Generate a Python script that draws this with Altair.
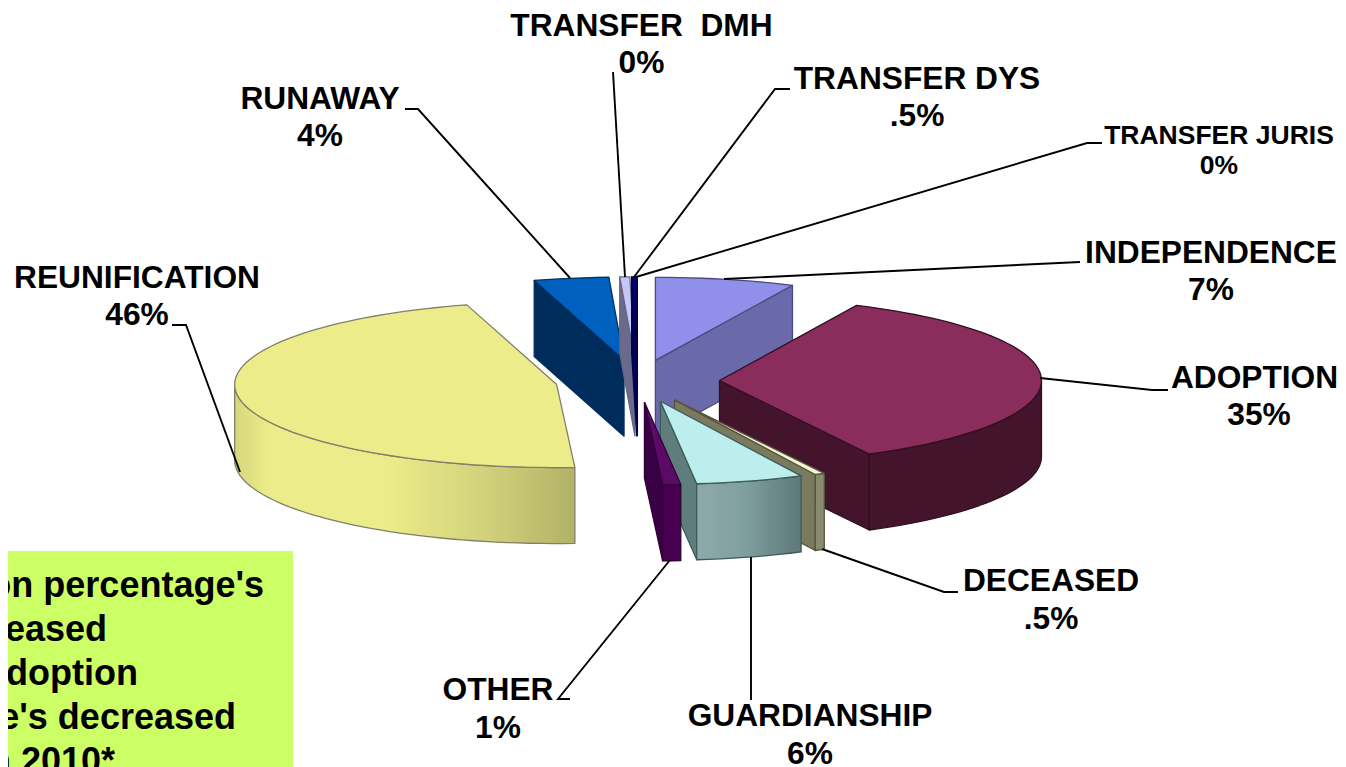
import math
import altair as alt
import pandas as pd

# ---- data (share of the pie, clockwise from 12 o'clock)
categories = ["INDEPENDENCE", "ADOPTION", "DECEASED", "GUARDIANSHIP", "OTHER",
              "REUNIFICATION", "RUNAWAY", "TRANSFER \u00a0DMH", "TRANSFER DYS", "TRANSFER JURIS"]
shares = [7, 35.3, 0.5, 5.4, 0.9, 46.4, 3.75, 0.5, 0.2, 0.05]
pct_labels = ["7%", "35%", ".5%", "6%", "1%", "46%", "4%", "0%", ".5%", "0%"]
note_lines = ["on percentage's", "reased", "Adoption", "e's decreased", "n 2010*"]

# ---- styles
top_col = ["#9090ea", "#8b2d5c", "#f6f6d2", "#bdeeee", "#5b0a68", "#ecec8a", "#0060c0", "#c6c6f8", "#000080", "#000080"]
cut_col = ["#6a6aaa", "#43142c", "#7a7a5e", "#5f7d7b", "#3a0044", "#b4b46a", "#002c5c", "#6a6a8a", "#00005a", "#00005a"]
edge_col = ["#4a4a80", "#2e1020", "#55553f", "#3f5a5a", "#300038", "#80806a", "#00305f", "#666680", "#000050", "#000050"]


def grad(stops):
    return alt.LinearGradient(gradient="linear", x1=0, x2=1, y1=0, y2=0,
                              stops=[alt.GradientStop(offset=o, color=c) for o, c in stops])


wall_col = ["#6a6aaa", "#43142c", "#8a8a6e",
            grad([(0, "#8fa9a9"), (0.45, "#80a0a0"), (1, "#5e7878")]),
            "#470050",
            grad([(0, "#d6d67c"), (0.1, "#ecec8a"), (0.45, "#ecec8a"), (0.72, "#d3d37c"), (1, "#b2b268")]),
            "#002c5c", "#6a6a8a", "#00005a", "#00005a"]

# ---- pie geometry, in picture pixels
CX, CY, RX, RY, DEPTH, EXPLODE = 637.5, 381, 322, 83, 76, 82 / 322
X0, Y0, W, H = 8, 8, 1330, 759
x_enc = alt.X("x:Q", axis=None, scale=alt.Scale(domain=[X0, X0 + W], range=[0, W]))
y_enc = alt.Y("y:Q", axis=None, scale=alt.Scale(domain=[Y0, Y0 + H], range=[0, H]))


def poly(pts, fill, stroke, sw=1.3):
    df = pd.DataFrame({"x": [p[0] for p in pts], "y": [p[1] for p in pts], "i": range(len(pts))})
    return alt.Chart(df).mark_line(fill=fill, stroke=stroke, strokeWidth=sw, strokeJoin="round").encode(
        x=x_enc, y=y_enc, order="i:Q")


def pt(cx, cy, deg, dz=0):
    t = math.radians(deg)
    return (cx + RX * math.sin(t), cy - RY * math.cos(t) + dz)


total = sum(shares)
bounds, acc = [], 0.0
for s in shares:
    bounds.append((acc * 360 / total, (acc + s) * 360 / total))
    acc += s

faces = {}
for k, (a, b) in enumerate(bounds):
    mid = math.radians((a + b) / 2)
    ax = CX + EXPLODE * RX * math.sin(mid)
    ay = CY - EXPLODE * RY * math.cos(mid)
    n = max(2, int((b - a) / 2))
    arc = [pt(ax, ay, a + (b - a) * j / n) for j in range(n + 1)]
    items = []
    # visible radial cuts
    if math.sin(math.radians(a)) < 0:
        p = pt(ax, ay, a)
        items.append(poly([(ax, ay), p, (p[0], p[1] + DEPTH), (ax, ay + DEPTH), (ax, ay)], cut_col[k], edge_col[k]))
    if math.sin(math.radians(b)) > 0:
        p = pt(ax, ay, b)
        items.append(poly([(ax, ay), p, (p[0], p[1] + DEPTH), (ax, ay + DEPTH), (ax, ay)], cut_col[k], edge_col[k]))
    # visible outer wall
    lo, hi = max(a, 90), min(b, 270)
    if hi > lo:
        m = max(2, int((hi - lo) / 2))
        front = [pt(ax, ay, lo + (hi - lo) * j / m) for j in range(m + 1)]
        back = [(p[0], p[1] + DEPTH) for p in reversed(front)]
        items.append(poly(front + back + [front[0]], wall_col[k], edge_col[k]))
    # top face
    items.append(poly([(ax, ay)] + arc + [(ax, ay)], top_col[k], edge_col[k]))
    faces[k] = items

paint_order = [0, 6, 7, 8, 9, 5, 1, 2, 3, 4]
layers = []

# note box
box = pd.DataFrame({"x": [X0], "x2": [293], "y": [551], "y2": [Y0 + H]})
layers.append(alt.Chart(box).mark_rect(color="#ccff66").encode(
    x=x_enc, x2="x2:Q", y=y_enc, y2="y2:Q"))

for k in paint_order:
    layers.extend(faces[k])

# leader lines (picture pixels)
leaders = [
    [(1080, 262), (724, 279)],
    [(1168, 390), (1152, 390), (1040, 378)],
    [(958, 592), (944, 592), (822, 549)],
    [(751, 700), (751, 557)],
    [(570, 699), (558, 699), (670, 560)],
    [(172, 325), (186, 325), (240, 472)],
    [(405, 109), (418, 109), (570, 278)],
    [(613, 72), (625, 277)],
    [(790, 89), (775, 89), (634, 277)],
    [(1102, 143), (1087, 143), (636, 277)],
]
for seg in leaders:
    df = pd.DataFrame({"x": [p[0] for p in seg], "y": [p[1] for p in seg], "i": range(len(seg))})
    layers.append(alt.Chart(df).mark_line(color="#000000", strokeWidth=1.9).encode(x=x_enc, y=y_enc, order="i:Q"))

# labels: centre x of name, centre x of percentage, y of first line, y of second line, size
label_pos = [
    (1211, 1211, 253, 290, 31.7), (1254.5, 1259, 378, 415, 31.7), (1051, 1051, 581, 619, 31.7), (810, 810, 716, 754, 31.7),
    (498, 498, 690, 728, 31.7), (137, 137, 278, 315, 31.7), (320, 320, 99, 136, 31.7), (641.5, 641.5, 26, 63, 31.7),
    (917, 917, 79, 116, 31.7), (1219, 1219, 136, 166, 26.5),
]
label_rows = []
for name, pct, (cx, cx2, y1, y2, size) in zip(categories, pct_labels, label_pos):
    label_rows.append({"x": cx, "y": y1, "t": name, "s": size})
    label_rows.append({"x": cx2, "y": y2, "t": pct, "s": size})
ldf = pd.DataFrame(label_rows)
for size, g in ldf.groupby("s"):
    layers.append(alt.Chart(g).mark_text(font="Liberation Sans", fontWeight="bold", fontSize=float(size),
                                         color="#000000", align="center", baseline="middle").encode(
        x=x_enc, y=y_enc, text="t:N"))

# note text, right-aligned at its visible right edge
note_x = [264, 107, 138, 236, 115]
note_y = [597, 641, 685, 729, 773]
ndf = pd.DataFrame({"x": note_x, "y": note_y, "t": note_lines})
layers.append(alt.Chart(ndf).mark_text(font="Liberation Sans", fontWeight="bold", fontSize=36,
                                       color="#000000", align="right", baseline="alphabetic").encode(
    x=x_enc, y=y_enc, text="t:N"))

chart = alt.layer(*layers).properties(
    width=W, height=H, padding=0, autosize=alt.AutoSizeParams(type="none"), background="#ffffff"
).configure_view(stroke=None)

chart.save("out.html", embed_options={"renderer": "svg", "actions": False})
